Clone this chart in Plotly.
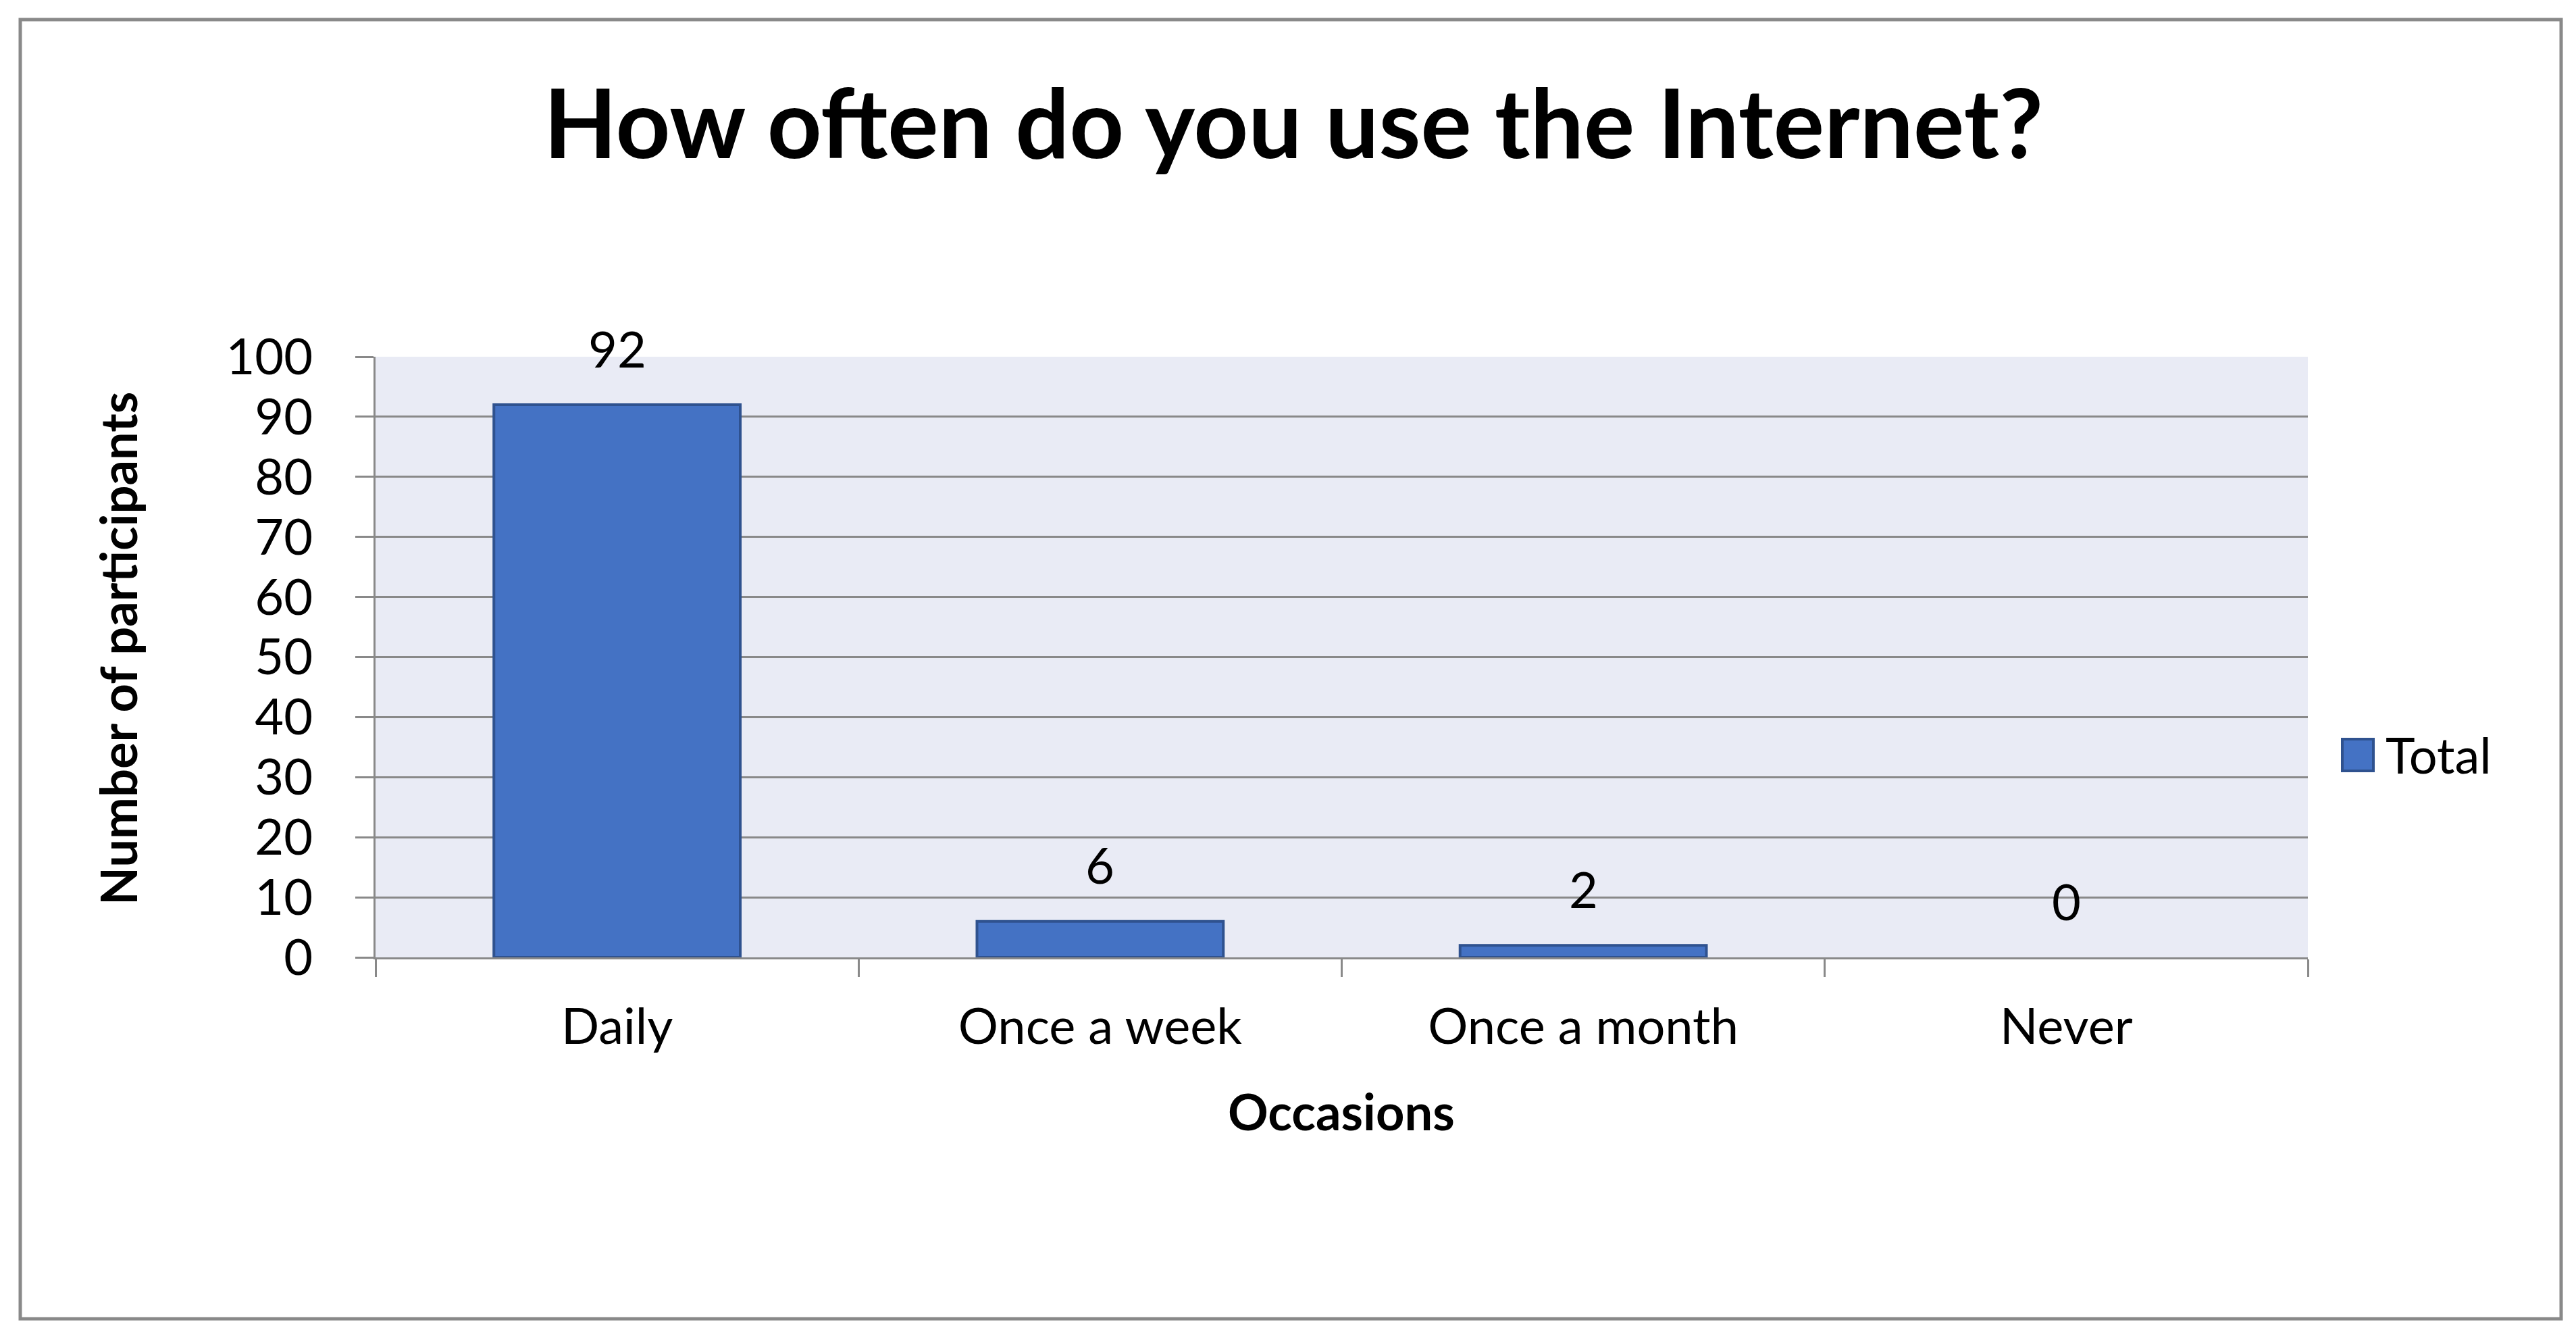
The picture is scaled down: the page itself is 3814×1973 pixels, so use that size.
import plotly.graph_objects as go

categories = ["Daily", "Once a week", "Once a month", "Never"]
totals = [92, 6, 2, 0]
y_ticks = [0, 10, 20, 30, 40, 50, 60, 70, 80, 90, 100]
series_name = "Total"
title_text = "How often do you use the Internet?"
x_title = "Occasions"
y_title = "Number of participants"

W, H = 3814, 1973
L, R, T, B = 548, 3409, 520, 1409  # plot area in pixels

def px_x(px):
    return (px - L) / (R - L)

def px_y(py):
    return (B - py) / (B - T)

FONT = "Lato"
GREY = "#898989"
BAR = "#4472C4"
BAR_EDGE = "#2F528F"

fig = go.Figure()
fig.add_trace(go.Bar(
    x=categories, y=totals, name=series_name,
    marker=dict(color=BAR,
                line=dict(color=BAR_EDGE, width=[4 if v > 0 else 0 for v in totals])),
    showlegend=False,
))

annotations = []
for c, v in zip(categories, totals):
    annotations.append(dict(
        x=c, y=v, xref="x", yref="y", text=str(v), showarrow=False,
        yanchor="middle", yshift=84, font=dict(family=FONT, size=74, color="black"),
    ))
# manual legend text
annotations.append(dict(
    x=px_x(3522), y=px_y(1108), xref="paper", yref="paper", text=series_name,
    showarrow=False, xanchor="left", yanchor="middle",
    font=dict(family=FONT, size=74, color="black"),
))
# axis titles
annotations.append(dict(
    x=px_x(1978), y=px_y(1636), xref="paper", yref="paper", text="<b>" + x_title + "</b>",
    showarrow=False, xanchor="center", yanchor="middle",
    font=dict(family=FONT, size=74, color="black"),
))
annotations.append(dict(
    x=px_x(166), y=px_y(952), xref="paper", yref="paper", text="<b>" + y_title + "</b>",
    showarrow=False, xanchor="center", yanchor="middle", textangle=-90,
    font=dict(family=FONT, size=74, color="black"),
))

shapes = [
    # outer chart border
    dict(type="rect", xref="paper", yref="paper",
         x0=px_x(22), x1=px_x(3784), y0=px_y(1944), y1=px_y(21),
         line=dict(color=GREY, width=5), fillcolor="rgba(0,0,0,0)", layer="below"),
    # legend swatch
    dict(type="rect", xref="paper", yref="paper",
         x0=px_x(3460), x1=px_x(3506), y0=px_y(1133), y1=px_y(1086),
         line=dict(color=BAR_EDGE, width=4), fillcolor=BAR),
]

fig.update_layout(
    width=W, height=H,
    margin=dict(l=L, r=W - R, t=T, b=H - B, pad=0, autoexpand=False),
    paper_bgcolor="white",
    plot_bgcolor="#E9EBF5",
    bargap=0.49,
    font=dict(family=FONT, size=74, color="black"),
    title=dict(text="<b>" + title_text + "</b>", x=0.5, xref="container", xanchor="center",
               y=1 - 177 / H, yref="container", yanchor="middle",
               font=dict(family=FONT, size=141, color="black")),
    annotations=annotations,
    shapes=shapes,
    showlegend=False,
)

fig.update_yaxes(
    range=[0, 100], tickvals=y_ticks, ticktext=[str(t) for t in y_ticks],
    automargin=False,
    showgrid=True, gridcolor=GREY, gridwidth=3,
    showline=True, linecolor=GREY, linewidth=3,
    ticks="outside", ticklen=27, tickwidth=3, tickcolor=GREY,
    ticklabelstandoff=48,
    zeroline=False,
    tickfont=dict(family=FONT, size=74, color="black"),
)
fig.update_xaxes(
    type="category", tickson="boundaries",
    automargin=False,
    showgrid=False,
    showline=True, linecolor=GREY, linewidth=3,
    ticks="outside", ticklen=26, tickwidth=3, tickcolor=GREY,
    ticklabelstandoff=36,
    tickfont=dict(family=FONT, size=74, color="black"),
)

fig.write_html("out.html")
